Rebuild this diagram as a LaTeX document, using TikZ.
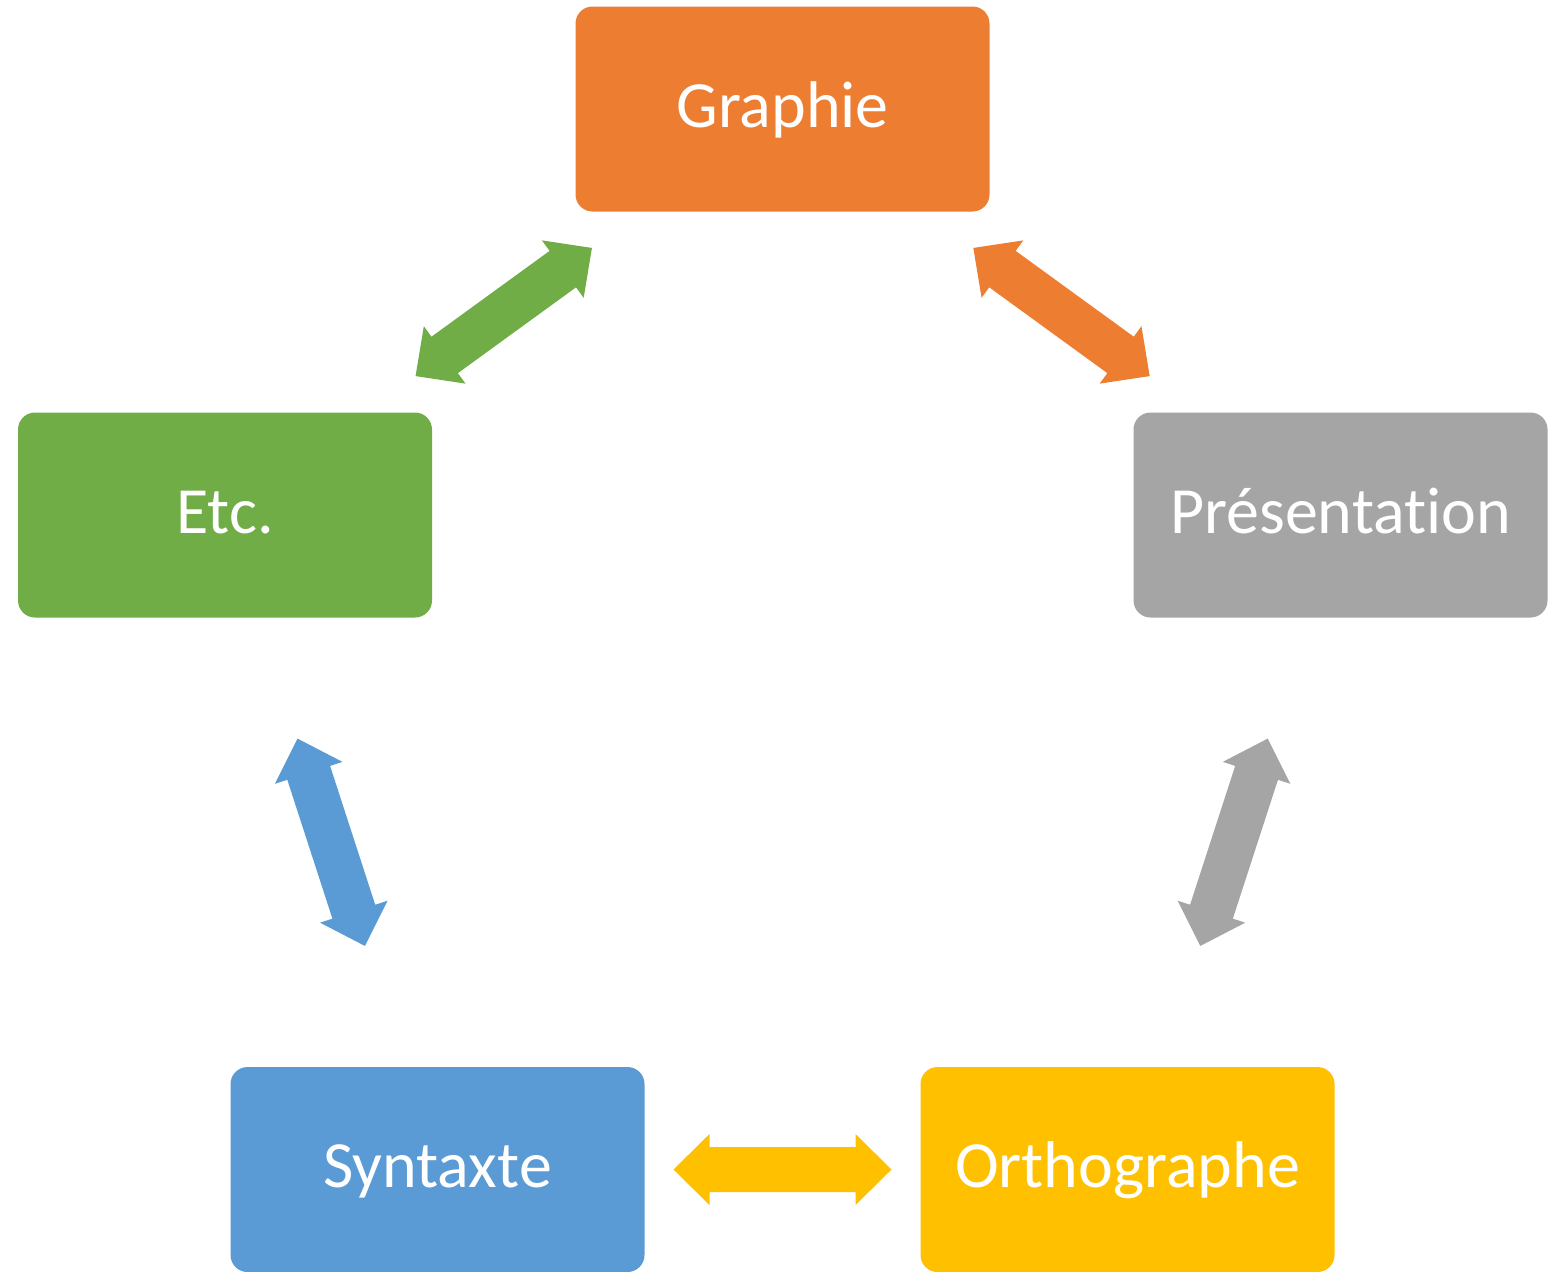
\documentclass[tikz,border=0pt]{standalone}
\usepackage{fontspec}
\setmainfont{Carlito}[Ligatures={NoCommon,NoRare,NoContextual}]
\usetikzlibrary{calc}
\definecolor{cOrange}{HTML}{ED7D31}
\definecolor{cGreen}{HTML}{70AD47}
\definecolor{cGray}{HTML}{A5A5A5}
\definecolor{cBlue}{HTML}{5B9BD5}
\definecolor{cYellow}{HTML}{FFC000}
\tikzset{
  box/.style={rectangle, rounded corners=8.5pt, minimum width=207pt, minimum height=102.5pt,
    inner sep=0pt, text=white, text height=24pt, text depth=6pt,
    font=\fontsize{33}{40}\selectfont},
  dblarrow/.pic={
    \fill[pic actions] (-109,0) -- (-73,35.5) -- (-73,22.5) -- (73,22.5) -- (73,35.5)
      -- (109,0) -- (73,-35.5) -- (73,-22.5) -- (-73,-22.5) -- (-73,-35.5) -- cycle;
  }
}
\begin{document}
\begin{tikzpicture}[x=0.5pt,y=-0.5pt]
\useasboundingbox (0,0) rectangle (1550,1271);
\node[box, fill=cOrange] (gra) at (782.5,109) {Graphie};
\node[box, fill=cGreen]  (etc) at (225,515) {Etc.};
\node[box, fill=cGray]   (pre) at (1340.5,515) {Présentation};
\node[box, fill=cBlue]   (syn) at (437.5,1169.5) {Syntaxte};
\node[box, fill=cYellow] (ort) at (1127.5,1169.5) {Orthographe};

\pic[fill=cGreen, rotate=36] at ($(etc)!0.5!(gra)$) {dblarrow};
\pic[fill=cOrange, rotate=-36] at ($(gra)!0.5!(pre)$) {dblarrow};
\pic[fill=cGray, rotate=72] at ($(pre)!0.5!(ort)$) {dblarrow};
\pic[fill=cYellow] at ($(syn)!0.5!(ort)$) {dblarrow};
\pic[fill=cBlue, rotate=-72] at ($(etc)!0.5!(syn)$) {dblarrow};
\end{tikzpicture}
\end{document}
